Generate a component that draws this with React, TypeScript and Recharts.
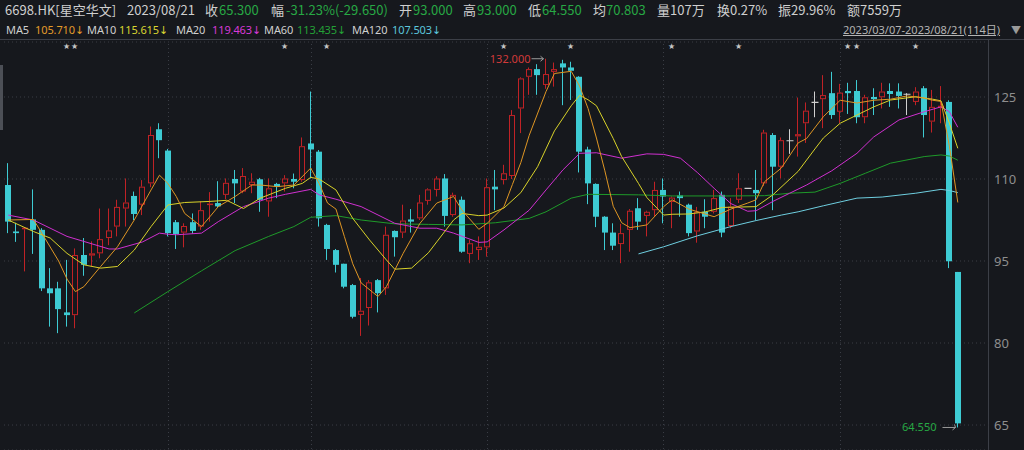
import React from 'react';
import { ComposedChart, Bar, Line, XAxis, YAxis, CartesianGrid } from 'recharts';

const BG = '#16181d';
const UP = '#c02226';
const DOWN = '#3ecbd3';
const FLAT = '#d0d0d0';
const GREEN = '#27a844';
const GRID = '#3a3d45';

// Daily OHLC, 2023/03/07 - 2023/08/21 (114 trading days)
const OPEN = [
  108.9, 100.4, 100.8, 102.6, 100.7, 90.0, 90.0, 85.6, 85.1, 96.1,
  96.0, 96.4, 99.2, 101.3, 104.6, 106.9, 105.3, 109.2, 119.1, 115.2,
  102.1, 100.2, 102.1, 101.3, 105.3, 105.6, 107.1, 110.0, 107.7, 108.9,
  109.95, 105.9, 109.1, 109.2, 110.0, 109.8, 116.5, 115.0, 101.6, 97.0,
  94.5, 90.6, 85.15, 86.4, 91.5, 90.0, 100.5, 100.2, 102.6, 102.8,
  106.0, 108.0, 110.1, 103.4, 106.2, 96.3, 97.0, 97.5, 108.6, 109.8,
  110.55, 122.9, 128.7, 130.1, 127.2, 129.6, 131.15, 130.4, 128.7, 115.4,
  109.1, 103.1, 100.2, 98.1, 100.7, 104.65, 103.25, 104.3, 108.0, 105.8,
  107.0, 105.3, 100.4, 104.0, 104.0, 107.1, 101.4, 106.2, 108.3, 108.0,
  109.2, 118.05, 112.25, 117.0, 117.8, 120.2, 124.0, 124.6, 125.7, 122.3,
  126.1, 126.1, 121.3, 125.0, 124.95, 126.1, 126.0, 125.5, 124.1, 126.6,
  120.5, 123.0, 124.1, 93.0,
];
const HIGH = [
  112.9, 102.0, 101.2, 108.1, 101.0, 93.7, 91.2, 95.2, 97.3, 99.2,
  98.6, 104.6, 104.6, 106.2, 110.1, 107.7, 109.8, 119.6, 120.2, 115.5,
  102.5, 101.9, 103.7, 105.9, 107.6, 109.6, 110.1, 111.65, 112.0, 111.05,
  110.2, 110.1, 109.3, 110.7, 111.0, 117.6, 126.0, 115.3, 101.8, 97.2,
  94.5, 90.8, 91.9, 91.5, 91.7, 101.3, 100.6, 105.3, 104.5, 107.1,
  108.3, 110.5, 110.9, 107.5, 106.8, 98.9, 99.5, 110.1, 111.65, 112.6,
  122.6, 128.6, 130.4, 131.0, 132.0, 131.3, 131.8, 131.45, 128.8, 115.9,
  109.2, 103.2, 101.9, 101.8, 104.5, 106.5, 104.2, 109.5, 110.1, 106.8,
  107.7, 105.5, 104.9, 106.3, 108.0, 107.7, 106.5, 111.05, 108.35, 111.65,
  119.0, 118.4, 117.6, 119.1, 124.9, 124.0, 126.0, 129.0, 129.6, 127.4,
  127.6, 128.1, 125.4, 126.6, 127.6, 127.5, 127.5, 125.7, 126.8, 127.0,
  126.3, 127.0, 124.4, 93.0,
];
const LOW = [
  100.1, 98.5, 93.1, 96.3, 89.5, 83.0, 81.8, 83.0, 82.7, 92.3,
  94.0, 95.5, 97.9, 99.5, 101.3, 102.5, 103.4, 108.5, 113.8, 99.5,
  97.2, 97.5, 100.0, 100.7, 102.2, 104.8, 106.3, 105.6, 107.4, 107.4,
  104.0, 103.1, 106.5, 107.7, 108.3, 109.5, 110.1, 101.3, 95.2, 92.9,
  90.0, 84.5, 81.3, 83.2, 85.6, 88.8, 95.8, 99.2, 100.2, 102.5,
  105.3, 106.8, 101.3, 103.1, 96.5, 94.6, 95.2, 95.8, 104.3, 109.0,
  110.0, 118.4, 125.4, 125.4, 126.5, 126.9, 123.5, 124.45, 111.2, 105.4,
  101.2, 97.0, 97.0, 94.6, 96.7, 100.7, 99.5, 103.1, 101.9, 101.0,
  103.1, 99.5, 98.35, 101.0, 103.7, 99.35, 101.0, 105.6, 108.25, 102.5,
  108.7, 104.3, 110.1, 114.6, 114.1, 116.6, 121.3, 119.3, 121.0, 120.2,
  121.9, 120.2, 120.2, 121.7, 122.9, 123.2, 122.9, 121.7, 123.5, 117.6,
  118.5, 120.2, 93.7, 64.55,
];
const CLOSE = [
  102.2, 100.1, 101.1, 100.7, 90.0, 89.1, 86.2, 85.1, 96.1, 94.3,
  96.4, 99.0, 100.6, 104.9, 105.7, 103.6, 108.6, 118.05, 117.1, 100.1,
  99.95, 101.4, 100.5, 104.3, 105.5, 105.0, 109.3, 109.2, 110.55, 109.5,
  106.2, 108.3, 108.6, 110.1, 109.5, 116.0, 115.4, 102.8, 97.2, 94.3,
  90.3, 84.8, 85.9, 91.1, 89.1, 99.8, 99.35, 102.4, 102.2, 105.7,
  108.1, 110.1, 103.25, 107.1, 96.7, 98.25, 97.6, 108.5, 108.1, 111.05,
  121.7, 128.4, 130.1, 129.0, 129.2, 130.1, 130.4, 129.8, 115.0, 109.2,
  103.1, 100.2, 97.8, 100.1, 104.2, 102.2, 104.0, 108.0, 106.8, 106.6,
  106.5, 100.1, 104.0, 103.1, 106.5, 100.2, 104.95, 108.3, 108.3, 107.4,
  118.5, 112.25, 117.1, 117.0, 118.2, 122.5, 124.0, 125.35, 121.7, 125.8,
  125.7, 121.3, 124.95, 124.6, 126.0, 125.55, 125.2, 125.5, 126.0, 121.7,
  123.2, 123.4, 94.95, 65.3,
];

// Moving averages: [candle index, value]
const MA5: [number, number][] = [
  [0, 102.5], [3, 102.6], [4, 100.1], [6, 95.0], [7, 91.7], [8, 89.4], [9, 90.3], [11, 94.0], [13, 97.6],
  [15, 102.5], [17, 108.0], [18, 110.7], [19, 109.2], [20, 106.8], [21, 103.7], [23, 101.3], [24, 103.1],
  [25, 104.95], [27, 106.8], [29, 108.9], [30, 108.9], [32, 108.6], [34, 108.9], [36, 112.0], [37, 109.2],
  [38, 105.6], [39, 104.5], [40, 99.5], [41, 94.5], [42, 91.0], [44, 88.5], [45, 90.3], [47, 96.4],
  [49, 101.9], [51, 105.6], [53, 106.8], [54, 104.3], [56, 100.8], [57, 101.9], [59, 104.95], [60, 109.0],
  [61, 113.0], [62, 118.0], [64, 126.0], [65, 129.3], [67, 129.7], [68, 127.0], [69, 122.9], [70, 117.5],
  [71, 111.5], [72, 105.0], [73, 102.0], [74, 101.1], [76, 101.6], [78, 104.95], [79, 106.2], [81, 104.5],
  [84, 103.1], [86, 104.5], [88, 105.6], [89, 106.2], [90, 109.5], [92, 112.0], [94, 116.6], [95, 117.4],
  [97, 121.4], [99, 124.4], [101, 123.9], [103, 124.4], [105, 124.6], [107, 125.2], [109, 124.8],
  [110, 124.4], [111, 124.2], [112, 116.0], [113, 105.71],
];
const MA10: [number, number][] = [
  [0, 102.5], [3, 100.4], [5, 99.2], [7, 96.4], [9, 94.3], [11, 93.7], [13, 94.0], [15, 97.0], [17, 101.3],
  [19, 105.25], [21, 105.7], [24, 105.9], [26, 106.1], [28, 104.6], [30, 106.5], [33, 108.3], [35, 109.2],
  [36, 110.3], [37, 110.0], [39, 108.0], [41, 102.8], [43, 98.85], [45, 95.2], [46, 93.5], [48, 93.7],
  [50, 96.5], [51, 98.5], [53, 102.5], [54, 103.7], [56, 103.3], [57, 103.4], [59, 104.7], [61, 107.5],
  [63, 112.25], [65, 118.8], [67, 123.4], [68, 125.3], [69, 124.5], [70, 123.4], [72, 117.4], [73, 114.1],
  [75, 109.2], [76, 106.6], [78, 103.4], [79, 103.55], [81, 103.6], [83, 104.0], [85, 104.8], [89, 104.95],
  [91, 107.1], [94, 111.4], [96, 115.5], [97, 117.5], [99, 120.2], [101, 121.7], [103, 123.2], [105, 124.45],
  [108, 125.05], [110, 124.6], [111, 124.3], [112, 120.2], [113, 115.615],
];
const MA20: [number, number][] = [
  [0, 103.4], [3, 102.5], [7, 99.5], [12, 97.2], [13, 97.2], [16, 98.5], [18, 100.1], [19, 99.9], [20, 99.8],
  [23, 100.1], [25, 102.2], [28, 104.95], [31, 106.5], [33, 107.2], [36, 108.1], [37, 107.1], [39, 106.3],
  [42, 104.95], [46, 101.9], [49, 101.0], [51, 101.0], [53, 100.1], [56, 98.4], [57, 98.5], [59, 100.7],
  [62, 104.3], [64, 108.0], [66, 111.65], [68, 114.7], [70, 114.8], [73, 113.8], [76, 114.6], [78, 114.5],
  [80, 113.8], [82, 111.2], [84, 108.3], [86, 105.5], [88, 104.1], [89, 104.2], [91, 105.9], [93, 107.4],
  [95, 108.9], [98, 111.5], [101, 114.7], [103, 117.7], [106, 120.8], [109, 122.3], [111, 123.2],
  [112, 122.3], [113, 119.463],
];
const MA60: [number, number][] = [
  [15, 85.5], [19, 89.4], [23, 93.2], [27, 96.9], [31, 99.5], [34, 101.3], [36, 103.0], [39, 103.3],
  [42, 102.5], [46, 101.8], [50, 101.7], [54, 101.6], [58, 102.0], [62, 102.8], [64, 104.0], [67, 106.5],
  [69, 107.2], [75, 107.1], [79, 106.9], [86, 106.9], [90, 106.95], [93, 107.4], [96, 107.6], [99, 109.2],
  [102, 111.05], [105, 112.9], [109, 114.1], [111, 114.4], [112, 114.2], [113, 113.435],
];
const MA120: [number, number][] = [
  [75, 96.3], [78, 97.6], [82, 99.6], [86, 101.3], [89, 102.4], [92, 103.4], [94, 104.0], [97, 105.1],
  [99, 105.8], [101, 106.5], [104, 106.7], [108, 107.4], [111, 108.1], [112, 107.9], [113, 107.503],
];

const STAR_IDX = [7, 8, 33, 38, 59, 67, 79, 87, 100, 101, 108];
const MONTH_START_IDX = [19, 36, 57, 78, 99];
const Y_TICKS = [65, 80, 95, 110, 125];

const lookup = (pts: [number, number][], i: number) => {
  const f = pts.find((p) => p[0] === i);
  return f ? f[1] : null;
};

const maxIdx = HIGH.indexOf(Math.max(...HIGH));
const minIdx = LOW.indexOf(Math.min(...LOW));

const rows = OPEN.map((o, i) => ({
  i,
  o,
  h: HIGH[i],
  l: LOW[i],
  c: CLOSE[i],
  range: [LOW[i], HIGH[i]],
  star: STAR_IDX.includes(i),
  month: MONTH_START_IDX.includes(i),
  isMax: i === maxIdx,
  isMin: i === minIdx,
  ma5: lookup(MA5, i),
  ma10: lookup(MA10, i),
  ma20: lookup(MA20, i),
  ma60: lookup(MA60, i),
  ma120: lookup(MA120, i),
}));

function Candle(props: any) {
  const { x, y, width, height, payload: d } = props;
  if (!d || x == null || y == null) return null;
  const span = d.h - d.l;
  const k = span > 0 ? height / span : 0;
  const py = (v: number) => y + (d.h - v) * k;
  const left = Math.round(x + (width - 6) / 2);
  const cx = left + 2.5;
  const up = d.c > d.o;
  const flat = d.c === d.o;
  const color = flat ? FLAT : up ? UP : DOWN;
  const top = py(Math.max(d.o, d.c));
  const bot = py(Math.min(d.o, d.c));
  const parts: React.ReactNode[] = [];
  if (d.month) {
    parts.push(<line key="m" x1={cx + 1} x2={cx + 1} y1={40} y2={450} stroke={GRID} strokeDasharray="1 3" strokeWidth={1} />);
  }
  if (flat) {
    if (span > 0.2) parts.push(<line key="w" x1={cx} x2={cx} y1={py(d.h)} y2={py(d.l)} stroke={color} strokeWidth={1} />);
    parts.push(<line key="b" x1={left - 0.5} x2={left + 6.5} y1={top} y2={top} stroke={color} strokeWidth={1.2} />);
  } else if (up) {
    parts.push(<line key="w1" x1={cx} x2={cx} y1={py(d.h)} y2={top} stroke={color} strokeWidth={1} />);
    parts.push(<line key="w2" x1={cx} x2={cx} y1={bot} y2={py(d.l)} stroke={color} strokeWidth={1} />);
    parts.push(
      <rect key="b" x={left + 0.5} y={top + 0.5} width={5} height={Math.max(bot - top - 1, 0.5)} fill={BG} stroke={color} strokeWidth={1} />
    );
  } else {
    parts.push(<line key="w" x1={cx} x2={cx} y1={py(d.h)} y2={py(d.l)} stroke={color} strokeWidth={1} />);
    parts.push(<rect key="b" x={left} y={top} width={6} height={Math.max(bot - top, 1.2)} fill={color} />);
  }
  if (d.star) {
    parts.push(
      <text key="s" x={cx} y={49} fontSize={8} fill="#c4c4c4" textAnchor="middle" fontFamily="DejaVu Sans">★</text>
    );
  }
  if (d.isMax) {
    const yy = py(d.h);
    parts.push(
      <g key="mx">
        <text x={cx - 15} y={yy + 4} fontSize={11} fill="#d23a3a" textAnchor="end" fontFamily="Noto Sans">{d.h.toFixed(3)}</text>
        <line x1={cx - 14} x2={cx - 2} y1={yy} y2={yy} stroke="#9a9a9a" strokeWidth={1} />
        <path d={`M${cx - 5},${yy - 2.5} L${cx - 2},${yy} L${cx - 5},${yy + 2.5}`} fill="none" stroke="#9a9a9a" strokeWidth={1} />
      </g>
    );
  }
  if (d.isMin) {
    const yy = py(d.l);
    parts.push(
      <g key="mn">
        <text x={cx - 21} y={yy + 4} fontSize={11} fill={GREEN} textAnchor="end" fontFamily="Noto Sans">{d.l.toFixed(3)}</text>
        <line x1={cx - 15} x2={cx - 2} y1={yy} y2={yy} stroke="#9a9a9a" strokeWidth={1} />
        <path d={`M${cx - 5},${yy + 2.5} L${cx - 2},${yy} L${cx - 3},${yy - 3}`} fill="none" stroke="#9a9a9a" strokeWidth={1} />
      </g>
    );
  }
  return <g>{parts}</g>;
}

type Piece = { t: string; x: number; c: string };
const LABEL = '#cfcfcf';
const HEADER: Piece[] = [
  { t: '6698.HK[星空华文]', x: 5, c: LABEL },
  { t: '2023/08/21', x: 127, c: LABEL },
  { t: '收', x: 205, c: LABEL },
  { t: '65.300', x: 219, c: GREEN },
  { t: '幅', x: 271, c: LABEL },
  { t: '-31.23%(-29.650)', x: 286, c: GREEN },
  { t: '开', x: 399, c: LABEL },
  { t: '93.000', x: 413, c: GREEN },
  { t: '高', x: 463, c: LABEL },
  { t: '93.000', x: 477, c: GREEN },
  { t: '低', x: 528, c: LABEL },
  { t: '64.550', x: 542, c: GREEN },
  { t: '均', x: 593, c: LABEL },
  { t: '70.803', x: 606, c: GREEN },
  { t: '量107万', x: 657, c: LABEL },
  { t: '换0.27%', x: 717, c: LABEL },
  { t: '振29.96%', x: 778, c: LABEL },
  { t: '额7559万', x: 847, c: LABEL },
];
const LEGEND: Piece[] = [
  { t: 'MA5', x: 6, c: LABEL },
  { t: '105.710↓', x: 35, c: '#e39b2a' },
  { t: 'MA10', x: 87, c: LABEL },
  { t: '115.615↓', x: 119, c: '#d9d530' },
  { t: 'MA20', x: 176, c: LABEL },
  { t: '119.463↓', x: 212, c: '#d83ad8' },
  { t: 'MA60', x: 264, c: LABEL },
  { t: '113.435↓', x: 297, c: '#24a036' },
  { t: 'MA120', x: 352, c: LABEL },
  { t: '107.503↓', x: 392, c: '#5cc6dc' },
];

export default function App() {
  const font = '"Noto Sans CJK SC", "Noto Sans", sans-serif';
  return (
    <div style={{ position: 'absolute', left: 0, top: 0, width: 1024, height: 450, background: BG, overflow: 'hidden', fontFamily: font }}>
      {HEADER.map((p, k) => (
        <span key={'h' + k} style={{ position: 'absolute', left: p.x, top: 0, lineHeight: '20px', fontSize: 13, color: p.c, whiteSpace: 'nowrap' }}>{p.t}</span>
      ))}
      {LEGEND.map((p, k) => (
        <span key={'l' + k} style={{ position: 'absolute', left: p.x, top: 21, lineHeight: '18px', fontSize: 11, color: p.c, whiteSpace: 'nowrap', fontFamily: '"Noto Sans", "DejaVu Sans", sans-serif', letterSpacing: '-0.1px' }}>{p.t}</span>
      ))}
      <span style={{ position: 'absolute', left: 843, top: 21, lineHeight: '18px', fontSize: 11, color: '#b4b4b4', textDecoration: 'underline', whiteSpace: 'nowrap', fontFamily: '"Noto Sans", "Noto Sans CJK SC", sans-serif' }}>2023/03/07-2023/08/21(114日)</span>
      <span style={{ position: 'absolute', left: 1011, top: 21, lineHeight: '18px', fontSize: 10, color: '#9a9a9a' }}>▼</span>
      <div style={{ position: 'absolute', left: 0, top: 39, width: 1024, height: 1, background: '#3c3f47' }} />
      <div style={{ position: 'absolute', left: 988, top: 40, width: 1, height: 410, background: '#3c3f47' }} />
      <div style={{ position: 'absolute', left: 0, top: 65, width: 3, height: 65, background: '#4c4f56' }} />
      <div style={{ position: 'absolute', left: 0, top: 0 }}>
        <ComposedChart width={1024} height={450} data={rows} margin={{ top: 42, right: 0, bottom: 0, left: 4 }}>
          <CartesianGrid vertical={false} stroke={GRID} strokeDasharray="1 3" />
          <XAxis dataKey="i" type="category" hide padding={{ left: 0, right: 27 }} />
          <YAxis
            orientation="right"
            domain={[60.43, 135.06]}
            allowDataOverflow
            ticks={Y_TICKS}
            width={35}
            axisLine={false}
            tickLine={false}
            tickSize={0}
            tickMargin={5}
            tick={{ fill: '#8e8e8e', fontSize: 13, fontFamily: 'Noto Sans' }}
          />
          <Bar dataKey="range" barSize={6} shape={<Candle />} isAnimationActive={false} />
          <Line dataKey="ma120" stroke="#6fcfe0" strokeWidth={1} dot={false} connectNulls isAnimationActive={false} />
          <Line dataKey="ma60" stroke="#1f9a2a" strokeWidth={1} dot={false} connectNulls isAnimationActive={false} />
          <Line dataKey="ma20" stroke="#d030d0" strokeWidth={1} dot={false} connectNulls isAnimationActive={false} />
          <Line dataKey="ma10" stroke="#d8d22a" strokeWidth={1} dot={false} connectNulls isAnimationActive={false} />
          <Line dataKey="ma5" stroke="#df9624" strokeWidth={1} dot={false} connectNulls isAnimationActive={false} />
        </ComposedChart>
      </div>
    </div>
  );
}
